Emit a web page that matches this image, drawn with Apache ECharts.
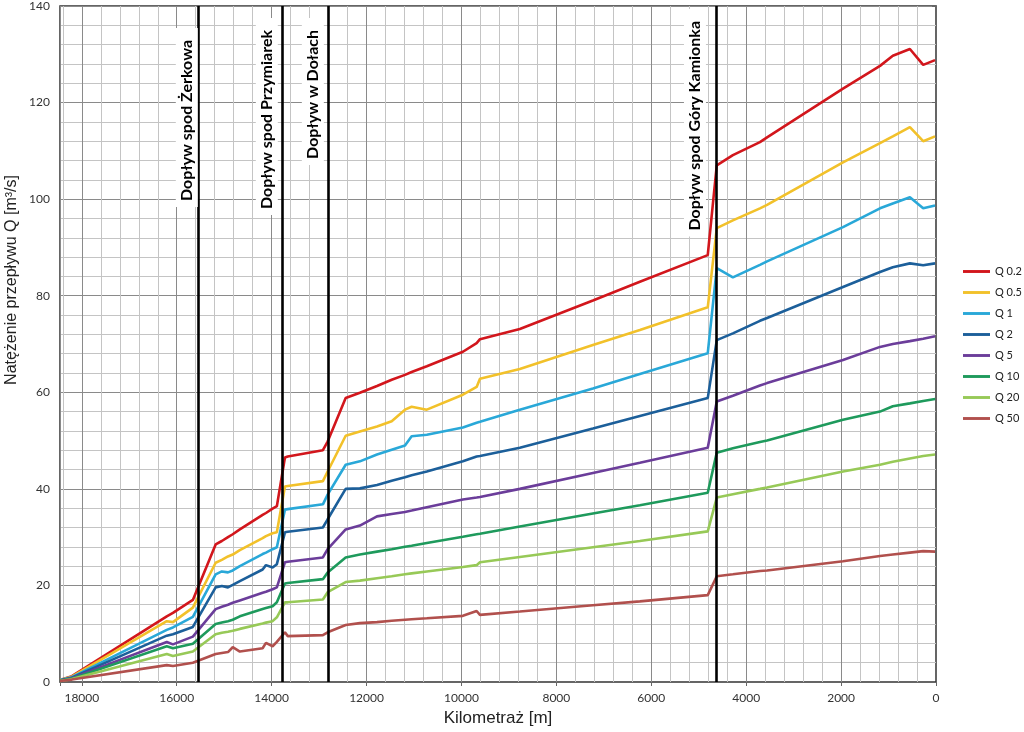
<!DOCTYPE html>
<html><head><meta charset="utf-8">
<script src="https://cdn.jsdelivr.net/npm/echarts@6/dist/echarts.min.js"></script>
<style>html,body{margin:0;padding:0;background:#fff}#c{width:1024px;height:732px}</style>
</head><body><div id="c"></div>
<script>
// Kilometraż [m] (shared x positions)
const km = [18460, 18210, 16210, 16080, 15660, 15180, 15050, 14920, 14820, 14670,
            14190, 14120, 13980, 13890, 13720, 13660, 12920, 12820, 12440, 12140,
            11780, 11470, 11190, 11050, 10730, 9970, 9680, 9610, 8770, 7230,
            6240, 4810, 4620, 4280, 3710, 3560, 1960, 1180, 910, 550, 270, 20];
const q02 = [0.4, 1.2, 13.6, 14.3, 17.0, 28.5, 29.2, 30.0, 30.6, 31.6,
             34.6, 35.0, 35.9, 36.4, 46.5, 46.7, 48.0, 49.8, 58.8, 59.9,
             61.3, 62.6, 63.6, 64.2, 65.4, 68.4, 70.2, 71.0, 73.1, 79.0,
             82.9, 88.4, 107.0, 109.1, 111.8, 112.8, 122.9, 127.6, 129.7, 131.1, 127.8, 128.8];
const q05 = [0.4, 1.1, 12.6, 12.4, 15.4, 24.7, 25.3, 26.0, 26.4, 27.3,
             29.8, 30.2, 30.8, 31.0, 40.5, 40.6, 41.6, 43.6, 51.0, 51.9,
             52.9, 54.0, 56.4, 57.0, 56.4, 59.5, 61.1, 62.8, 64.8, 69.8,
             72.9, 77.6, 94.0, 95.6, 98.1, 98.8, 107.6, 111.6, 113.0, 114.9, 112.0, 113.0];
const q1 = [0.4, 1.0, 10.8, 11.3, 13.5, 22.3, 22.9, 22.7, 23.1, 24.0,
            26.5, 26.8, 27.5, 27.9, 35.7, 35.8, 36.8, 38.8, 45.0, 45.7,
            47.1, 48.1, 49.0, 50.9, 51.2, 52.7, 53.7, 53.9, 56.4, 60.8,
            63.8, 68.1, 85.7, 83.8, 86.4, 87.1, 94.2, 98.1, 99.1, 100.4, 98.1, 98.7];
const q2 = [0.3, 0.9, 9.6, 9.9, 11.4, 19.6, 19.9, 19.6, 20.1, 20.9,
            23.3, 24.2, 23.7, 24.4, 31.0, 31.1, 32.0, 33.7, 40.0, 40.1,
            40.8, 41.7, 42.4, 42.8, 43.6, 45.7, 46.7, 46.8, 48.5, 52.5,
            55.1, 58.8, 70.8, 72.2, 74.8, 75.4, 81.8, 84.9, 85.9, 86.7, 86.3, 86.7];
const q5 = [0.3, 0.8, 8.3, 7.8, 9.4, 15.1, 15.6, 16.0, 16.4, 16.9,
            18.5, 18.7, 19.2, 19.6, 24.8, 24.9, 25.8, 27.5, 31.6, 32.4,
            34.3, 34.8, 35.2, 35.5, 36.2, 37.8, 38.2, 38.3, 40.0, 43.3,
            45.4, 48.5, 58.1, 59.3, 61.4, 61.9, 66.7, 69.4, 70.0, 70.6, 71.1, 71.6];
const q10 = [0.3, 0.7, 7.4, 7.0, 7.9, 12.0, 12.3, 12.6, 12.9, 13.6,
             15.1, 15.3, 15.7, 16.5, 20.4, 20.5, 21.3, 22.7, 25.8, 26.4,
             27.0, 27.5, 28.0, 28.2, 28.8, 30.1, 30.6, 30.7, 32.2, 34.9,
             36.6, 39.2, 47.5, 48.4, 49.7, 50.0, 54.3, 56.0, 57.1, 57.7, 58.2, 58.6];
const q20 = [0.2, 0.6, 5.8, 5.4, 6.3, 9.9, 10.2, 10.4, 10.6, 11.0,
             12.1, 12.3, 12.6, 13.4, 16.5, 16.5, 17.1, 18.6, 20.7, 21.0,
             21.5, 21.9, 22.3, 22.5, 22.9, 23.8, 24.2, 24.8, 25.9, 27.9,
             29.2, 31.2, 38.2, 38.9, 40.0, 40.3, 43.6, 45.0, 45.6, 46.3, 46.8, 47.1];
const q50 = [0.2, 0.5, 3.5, 3.3, 4.0, 5.8, 6.0, 6.2, 7.2, 6.3,
             7.0, 8.1, 7.4, 8.3, 10.3, 9.5, 9.7, 10.3, 11.8, 12.2,
             12.4, 12.7, 12.9, 13.0, 13.2, 13.7, 14.7, 13.9, 14.6, 15.9,
             16.7, 18.0, 21.9, 22.3, 23.0, 23.1, 25.0, 26.1, 26.4, 26.8, 27.1, 27.0];
const seriesNames = ['Q 0.2', 'Q 0.5', 'Q 1', 'Q 2', 'Q 5', 'Q 10', 'Q 20', 'Q 50'];
const seriesValues = [q02, q05, q1, q2, q5, q10, q20, q50];
const seriesColors = ['#d2161c', '#f2c12a', '#29a8d8', '#1c5f9a', '#6b3d9a', '#1e9a5c', '#97c957', '#b1504d'];
// Tributaries (Dopływy)
const tributaryKm = [15556, 13786, 12816, 4637];
const tributaryNames = ['Dopływ spod Żerkowa', 'Dopływ spod Przymiarek', 'Dopływ w Dołach', 'Dopływ spod Góry Kamionka'];
// Axis ticks
const xTickLabels = [0, 2000, 4000, 6000, 8000, 10000, 12000, 14000, 16000, 18000];
const yTickLabels = [0, 20, 40, 60, 80, 100, 120, 140];

// label offsets (along line from top, away from line)
const labelDist = [[22, 0], [12, 4], [12, 4], [3, 10]];

const chart = echarts.init(document.getElementById('c'), null, {renderer: 'canvas'});
const X_MAX = 18460;
const series = seriesNames.map((name, i) => ({
  name, type: 'line', xAxisIndex: 1, yAxisIndex: 0,
  data: km.map((x, j) => [x, seriesValues[i][j]]),
  symbol: 'none', showSymbol: false,
  lineStyle: {color: seriesColors[i], width: 2.6},
  itemStyle: {color: seriesColors[i]},
  z: 3
}));
series.push({
  name: 'tributaries', type: 'line', xAxisIndex: 1, yAxisIndex: 0, data: [], z: 4,
  markLine: {
    silent: true, symbol: ['none', 'none'], animation: false,
    lineStyle: {color: '#000', width: 2.6, type: 'solid'},
    label: {
      show: true, position: 'insideEndTop', formatter: p => p.name,
      fontFamily: 'Lato', fontWeight: 'bold', fontSize: 16, color: '#000',
      backgroundColor: '#fff', padding: [3, 12, 3, 6]
    },
    emphasis: {disabled: true},
    data: tributaryKm.map((v, i) => ({xAxis: v, name: tributaryNames[i], label: {distance: labelDist[i]}}))
  }
});

chart.setOption({
  animation: false,
  backgroundColor: '#fff',
  grid: {left: 60, right: 88, top: 5, bottom: 49, show: true, borderColor: '#333', borderWidth: 1.5, backgroundColor: 'transparent', z: 0},
  legend: {
    orient: 'vertical', left: 958, top: 261, itemWidth: 27, itemHeight: 14, itemGap: 10,
    data: seriesNames, selectedMode: false,
    textStyle: {fontFamily: 'Lato', fontSize: 11, color: '#222'},
    icon: 'path://M0,6 L28,6 L28,9 L0,9 Z'
  },
  xAxis: [
    { // minor grid
      type: 'value', inverse: true, min: 0, max: X_MAX, interval: 400, position: 'top',
      axisLine: {show: false}, axisTick: {show: false}, axisLabel: {show: false},
      splitLine: {show: true, lineStyle: {color: '#c4c4c4', width: 1}}
    },
    {
      type: 'value', inverse: true, min: 0, max: X_MAX, interval: 2000, position: 'bottom',
      name: 'Kilometraż [m]', nameLocation: 'middle', nameGap: 28,
      nameTextStyle: {fontFamily: 'Liberation Sans', fontSize: 17, color: '#222'},
      axisLine: {show: true, onZero: false, lineStyle: {color: '#666', width: 1}},
      axisTick: {show: true, length: 4, lineStyle: {color: '#666'}},
      axisLabel: {fontFamily: 'Lato', fontSize: 12, color: '#333', margin: 10,
        formatter: v => (xTickLabels.indexOf(v) >= 0 ? String(v) : '')},
      splitLine: {show: true, lineStyle: {color: '#8a8a8a', width: 1}}
    }
  ],
  yAxis: [{
    type: 'value', min: 0, max: 140, interval: 20,
    axisLine: {show: true, lineStyle: {color: '#666', width: 1}},
    axisTick: {show: true, length: 4, lineStyle: {color: '#666'}},
    axisLabel: {fontFamily: 'Lato', fontSize: 12, color: '#333', margin: 10,
      formatter: v => (yTickLabels.indexOf(v) >= 0 ? String(v) : '')},
    splitLine: {show: true, lineStyle: {color: '#8a8a8a', width: 1}},
    minorTick: {show: false, splitNumber: 5},
    minorSplitLine: {show: true, lineStyle: {color: '#c4c4c4', width: 1}}
  }],
  graphic: [{
    type: 'text', x: 12, y: 280, rotation: Math.PI / 2,
    style: {text: 'Natężenie przepływu Q [m³/s]', fontFamily: 'Liberation Sans', fontSize: 16, fill: '#222',
      align: 'center', verticalAlign: 'middle'}
  }],
  series
});
</script></body></html>
